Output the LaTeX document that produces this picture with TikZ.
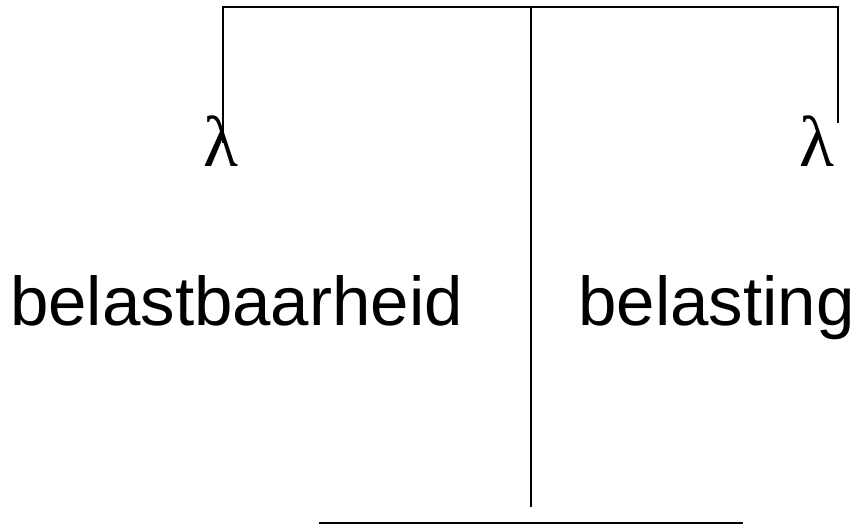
\documentclass[tikz,border=0pt]{standalone}
\usepackage{fontspec}
\setmainfont{Liberation Sans}
\newfontfamily\greekserif{Liberation Serif}
\begin{document}
\begin{tikzpicture}[x=1pt,y=-1pt,
  beam/.style={line width=2pt,black},
  word/.style={inner sep=0pt,anchor=base,font=\fontsize{69}{80}\selectfont},
  lam/.style={inner sep=0pt,anchor=base,font=\greekserif\fontsize{72}{80}\selectfont}]
  \useasboundingbox (0,0) rectangle (857,524);
  % scale frame
  \coordinate (top) at (531,7.5);
  \coordinate (foot) at (531,507);
  \coordinate (armL) at (223,7.5);
  \coordinate (armR) at (838,7.5);
  \coordinate (hangL) at (223,143);
  \coordinate (hangR) at (838,123);
  \coordinate (baseL) at (319,522.5);
  \coordinate (baseR) at (743,522.5);
  \draw[beam] (hangL) -- (armL) -- (armR) -- (hangR);
  \draw[beam] (top) -- (foot);
  \draw[beam] (baseL) -- (baseR);
  % pans
  \node[lam] (lamL) at (221,167) {λ};
  \node[lam] (lamR) at (817,167) {λ};
  % labels
  \node[word] (capacity) at (236.5,325) {belastbaarheid};
  \node[word] (load) at (716.5,325) {belasting};
\end{tikzpicture}
\end{document}
